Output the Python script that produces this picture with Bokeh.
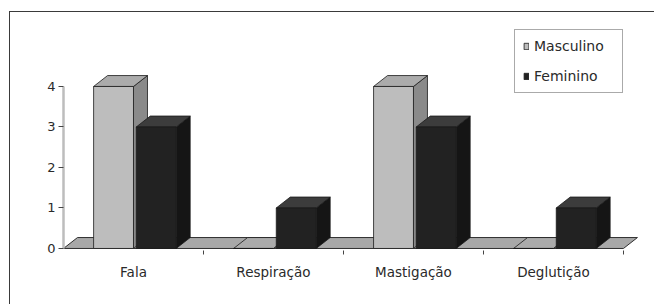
from bokeh.plotting import figure
from bokeh.models import Range1d, FixedTicker, LinearAxis, Legend, LegendItem
from bokeh.embed import file_html
from bokeh.resources import INLINE

# ---- data ----
categories = ["Fala", "Respiração", "Mastigação", "Deglutição"]
masculino = [4, 0, 4, 0]
feminino = [3, 1, 3, 1]
series_names = ["Masculino", "Feminino"]
y_ticks = [0, 1, 2, 3, 4]

# ---- 3D styling (positions / depth offsets) ----
DX, DY = 0.1, 0.27
offsets = {"Masculino": (0.215, 0.50), "Feminino": (0.52, 0.805)}
colors = {
    "Masculino": dict(front="#bdbdbd", side="#8a8a8a", top="#ababab"),
    "Feminino": dict(front="#222222", side="#151515", top="#3c3c3c"),
}
EDGE = "#1a1a1a"
FONT = "DejaVu Sans"

n = len(categories)
centers = [i + 0.5 for i in range(n)]

p = figure(width=645, height=293, output_backend="svg", toolbar_location=None,
           x_range=Range1d(0, 4.229), y_range=Range1d(-0.05, 5.777),
           min_border_left=53, min_border_right=0, min_border_top=2,
           min_border_bottom=55, x_axis_location=None, y_axis_location=None)
p.grid.visible = False
p.outline_line_color = None
p.background_fill_color = "white"
p.border_fill_color = "white"
p.styles = {"border-top": "1px solid #3a3a3a", "border-left": "1px solid #3a3a3a",
            "margin-top": "11px", "margin-left": "9px"}

# floor
p.patch([0, n, n + DX, DX], [0, 0, DY, DY], fill_color="#a8a8a8",
        line_color="#303030", line_width=1)

legend_items = []
for name, vals in zip(series_names, [masculino, feminino]):
    lo, hi = offsets[name]
    c = colors[name]
    lefts = [i + lo for i in range(n)]
    rights = [i + hi for i in range(n)]
    side_xs = [[r, r + DX, r + DX, r] for r in rights]
    side_ys = [[0, DY, v + DY, v] for v in vals]
    top_xs = [[l, r, r + DX, l + DX] for l, r in zip(lefts, rights)]
    top_ys = [[v, v, v + DY, v + DY] for v in vals]
    p.patches(side_xs, side_ys, fill_color=c["side"], line_color=EDGE, line_width=0.8)
    p.patches(top_xs, top_ys, fill_color=c["top"], line_color=EDGE, line_width=0.8)
    r = p.quad(left=lefts, right=rights, bottom=[0] * n, top=vals,
               fill_color=c["front"], line_color=EDGE, line_width=0.8)
    legend_items.append(LegendItem(label=name, renderers=[r]))

# y axis
yaxis = LinearAxis(ticker=FixedTicker(ticks=y_ticks), bounds=(0, 4))
yaxis.axis_line_color = "#bdbdbd"
yaxis.axis_line_width = 2.5
yaxis.major_tick_line_color = "#444444"
yaxis.major_tick_out = 5
yaxis.major_tick_in = 0
yaxis.minor_tick_line_color = None
yaxis.major_label_standoff = 3
yaxis.major_label_text_font = FONT
yaxis.major_label_text_font_size = "13px"
yaxis.major_label_text_color = "#2a2a2a"
p.add_layout(yaxis, "left")

# x axis (category labels)
xaxis = LinearAxis(ticker=FixedTicker(ticks=centers, minor_ticks=[1, 2, 3, 4]),
                   major_label_overrides={c: lab for c, lab in zip(centers, categories)})
xaxis.axis_line_color = None
xaxis.major_tick_line_color = None
xaxis.major_tick_out = 0
xaxis.major_tick_in = 0
xaxis.minor_tick_line_color = "#444444"
xaxis.minor_tick_out = 4
xaxis.minor_tick_in = 0
xaxis.major_label_standoff = 9
xaxis.major_label_text_font = FONT
xaxis.major_label_text_font_size = "13.5px"
xaxis.major_label_text_color = "#2a2a2a"
p.add_layout(xaxis, "below")

legend = Legend(items=legend_items, location=(451, 157))
legend.label_text_font = FONT
legend.label_text_font_size = "14px"
legend.label_text_color = "#2a2a2a"
legend.glyph_width = 6
legend.glyph_height = 8
legend.label_height = 14
legend.label_width = 80
legend.spacing = 14
legend.padding = 8
legend.margin = 0
legend.label_standoff = 5
legend.border_line_color = "#555555"
legend.border_line_width = 1.5
legend.background_fill_color = "white"
legend.background_fill_alpha = 1
p.add_layout(legend, "center")

open("out.html", "w").write(file_html(p, INLINE))
